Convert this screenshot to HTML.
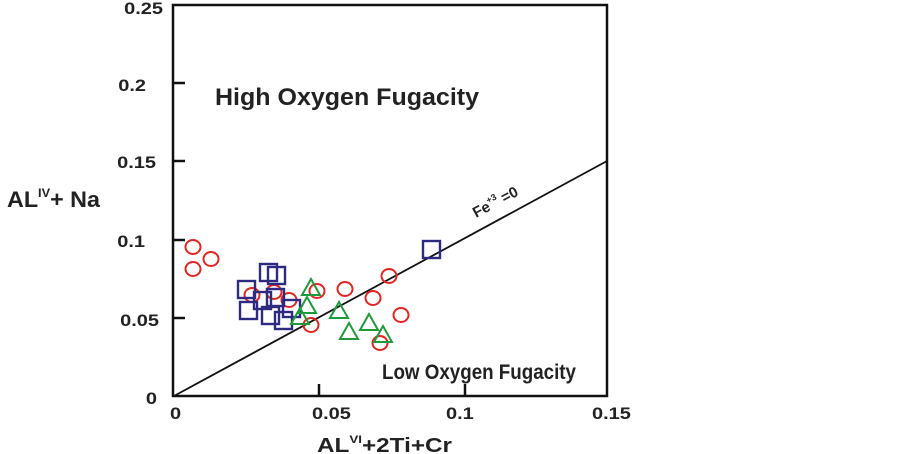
<!DOCTYPE html><html><head><style>body{margin:0;background:#fff}svg{display:block}text{font-family:"Liberation Sans",Arial,sans-serif;font-weight:bold;fill:#222}</style></head><body>
<svg width="902" height="454" viewBox="0 0 902 454">
<rect x="173" y="5" width="434" height="391" fill="none" stroke="#111" stroke-width="2.5"/>
<g stroke="#111" stroke-width="2.5">
<line x1="173" y1="83" x2="185" y2="83"/><line x1="173" y1="161" x2="185" y2="161"/><line x1="173" y1="240" x2="185" y2="240"/><line x1="173" y1="318" x2="185" y2="318"/>
<line x1="319" y1="396" x2="319" y2="384"/><line x1="465" y1="396" x2="465" y2="384"/>
</g>
<line x1="174" y1="396" x2="607" y2="161" stroke="#111" stroke-width="1.8"/>
<g font-size="16" text-anchor="end">
<text transform="translate(163,14) scale(1.25,1.05)">0.25</text>
<text transform="translate(146,91) scale(1.25,1.05)">0.2</text>
<text transform="translate(156,168) scale(1.25,1.05)">0.15</text>
<text transform="translate(145,247) scale(1.25,1.05)">0.1</text>
<text transform="translate(159,326) scale(1.25,1.05)">0.05</text>
<text transform="translate(157,404) scale(1.25,1.05)">0</text>
</g>
<g font-size="16">
<text transform="translate(170,419) scale(1.25,1.05)">0</text>
<text transform="translate(312,419) scale(1.25,1.05)">0.05</text>
<text transform="translate(446,419) scale(1.25,1.05)">0.1</text>
<text transform="translate(592,419) scale(1.25,1.05)">0.15</text>
</g>
<text x="7" y="207" font-size="22" textLength="93" lengthAdjust="spacingAndGlyphs">AL<tspan font-size="12" dy="-10">IV</tspan><tspan dy="10">+ Na</tspan></text>
<text x="317" y="452" font-size="20" textLength="135" lengthAdjust="spacingAndGlyphs">AL<tspan font-size="11" dy="-9">VI</tspan><tspan dy="9">+2Ti+Cr</tspan></text>
<text x="215" y="105" font-size="24" textLength="264" lengthAdjust="spacingAndGlyphs">High Oxygen Fugacity</text>
<text x="382" y="379" font-size="21" textLength="194" lengthAdjust="spacingAndGlyphs">Low Oxygen Fugacity</text>
<text transform="translate(476,218) rotate(-28)" font-size="15">Fe<tspan font-size="9" dy="-7">+3</tspan><tspan dy="7"> =0</tspan></text>
<g fill="none" stroke="#e52420" stroke-width="2">
<ellipse cx="193" cy="247" rx="7.5" ry="7"/><ellipse cx="211" cy="259" rx="7.5" ry="7"/><ellipse cx="193" cy="269" rx="7.5" ry="7"/>
<ellipse cx="252" cy="295" rx="7.5" ry="7"/><ellipse cx="274" cy="292" rx="7.5" ry="7"/><ellipse cx="289" cy="300" rx="7.5" ry="7"/>
<ellipse cx="317" cy="291" rx="7.5" ry="7"/><ellipse cx="345" cy="289" rx="7.5" ry="7"/><ellipse cx="373" cy="298" rx="7.5" ry="7"/>
<ellipse cx="389" cy="276" rx="7.5" ry="7"/><ellipse cx="401" cy="315" rx="7.5" ry="7"/><ellipse cx="311" cy="325" rx="7.5" ry="7"/><ellipse cx="380" cy="343" rx="7.5" ry="7"/>
</g>
<g fill="none" stroke="#2e2a82" stroke-width="2.4">
<rect x="260" y="264" width="17" height="17"/><rect x="268" y="267" width="17" height="17"/><rect x="238" y="281" width="17" height="17"/>
<rect x="254" y="292" width="17" height="17"/><rect x="267" y="289" width="17" height="17"/><rect x="240" y="302" width="17" height="17"/>
<rect x="262" y="307" width="17" height="17"/><rect x="275" y="312" width="17" height="17"/><rect x="283" y="300" width="17" height="17"/>
<rect x="423" y="241" width="17" height="17"/>
</g>
<g fill="none" stroke="#1f9a3a" stroke-width="2">
<polygon points="311,279 302,295 320,295"/><polygon points="307,297 298,313 316,313"/><polygon points="300,308 291,324 309,324"/>
<polygon points="339,302 330,318 348,318"/><polygon points="349,323 340,339 358,339"/><polygon points="369,314 360,330 378,330"/><polygon points="383,326 374,342 392,342"/>
</g>
</svg></body></html>
